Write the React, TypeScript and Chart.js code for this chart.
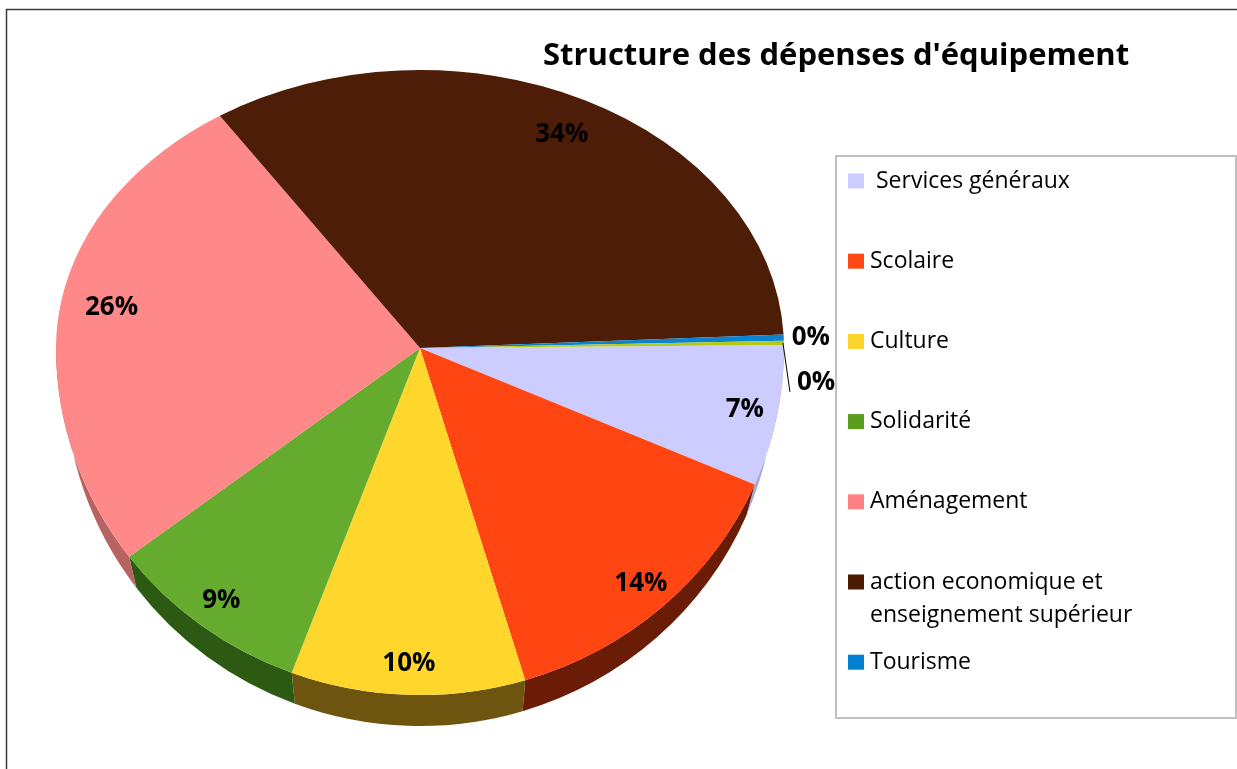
import React, { useEffect, useRef } from 'react';
import { Chart, registerables } from 'chart.js';

Chart.register(...registerables);

// ---------- data ----------
const chartTitle = "Structure des dépenses d'équipement";
const categories = [
  ' Services généraux',
  'Scolaire',
  'Culture',
  'Solidarité',
  'Aménagement',
  'action economique et enseignement supérieur',
  'Tourisme',
  '',
];
const legendLines = [
  [' Services généraux'],
  ['Scolaire'],
  ['Culture'],
  ['Solidarité'],
  ['Aménagement'],
  ['action economique et', 'enseignement supérieur'],
  ['Tourisme'],
];
const values = [6.6, 13.9, 10.4, 9.0, 26.0, 33.5, 0.35, 0.25];

// ---------- styles ----------
const faceColors = ['#CCCCFF', '#FF4512', '#FFD72C', '#64AB2E', '#FF8888', '#4E1D07', '#0A84D0', '#B4CB16'];
const sideColors = ['#A8A8D4', '#6A1C06', '#6D5510', '#2C5A12', '#B86262', '#2E1004', '#05507F', '#6E7A0C'];
const legendColors = ['#CCCCFF', '#FF4815', '#FFD42B', '#5A9E1F', '#FF8080', '#4A1A03', '#0080D0'];

const W = 1237;
const H = 769;
const V = 348; // projected pie centre (vertex) on screen
const KT = 278 / 364; // vertical squash of the back half
const KB = 347 / 364; // vertical squash of the front half
const DEPTH = 31;
const BASE_SHRINK = 9; // bottom rim appears slightly narrower (perspective)
const LABEL_FT = 0.86;
const LABEL_FB = 0.91;
const FONT = '"Open Sans", "Noto Sans", sans-serif';

function geom(chart: any) {
  const ca = chart.chartArea;
  const meta = chart.getDatasetMeta(0);
  const r = meta.data.length ? (meta.data[0] as any).outerRadius : 0;
  return {
    cx: (ca.left + ca.right) / 2,
    cy: (ca.top + ca.bottom) / 2,
    r,
    meta,
  };
}

const pie3d = {
  id: 'pie3d',
  beforeDraw(chart: any) {
    const ctx = chart.ctx as CanvasRenderingContext2D;
    ctx.save();
    ctx.fillStyle = '#ffffff';
    ctx.fillRect(0, 0, W, H);
    ctx.strokeStyle = '#3c3c3c';
    ctx.lineWidth = 1.5;
    ctx.strokeRect(6.5, 9.5, W + 40, H + 40);
    ctx.fillStyle = '#000';
    ctx.font = `bold 31px ${FONT}`;
    ctx.textAlign = 'center';
    ctx.textBaseline = 'alphabetic';
    ctx.fillText(chartTitle, 836, 65);
    ctx.restore();
  },
  beforeDatasetsDraw(chart: any) {
    const ctx = chart.ctx as CanvasRenderingContext2D;
    const { cx, cy, r, meta } = geom(chart);
    // side walls of the front half
    ctx.save();
    meta.data.forEach((arc: any, i: number) => {
      const s = arc.startAngle;
      const e = arc.endAngle;
      for (const base of [-2 * Math.PI, 0, 2 * Math.PI]) {
        const a = Math.max(s, base);
        const b = Math.min(e, base + Math.PI);
        if (b > a) {
          ctx.beginPath();
          ctx.ellipse(cx, V, r, r * KB, 0, a, b, false);
          ctx.ellipse(cx, V + DEPTH, r - BASE_SHRINK, r * KB, 0, b, a, true);
          ctx.closePath();
          ctx.fillStyle = sideColors[i];
          ctx.fill();
        }
      }
    });
    ctx.restore();
    // back half of top face
    ctx.save();
    ctx.beginPath();
    ctx.rect(0, 0, W, V);
    ctx.clip();
    ctx.translate(0, V);
    ctx.scale(1, KT);
    ctx.translate(0, -cy);
    meta.controller.draw();
    ctx.restore();
    // front half of top face
    ctx.save();
    ctx.beginPath();
    ctx.rect(0, V, W, H - V);
    ctx.clip();
    ctx.translate(0, V);
    ctx.scale(1, KB);
    ctx.translate(0, -cy);
    meta.controller.draw();
    ctx.restore();
    return false;
  },
  afterDraw(chart: any) {
    const ctx = chart.ctx as CanvasRenderingContext2D;
    const { cx, r, meta } = geom(chart);
    const total = values.reduce((a, b) => a + b, 0);
    let small = 0;
    ctx.save();
    ctx.fillStyle = '#000';
    ctx.strokeStyle = '#000';
    ctx.lineWidth = 1;
    ctx.font = `bold 26px ${FONT}`;
    ctx.textBaseline = 'middle';
    meta.data.forEach((arc: any, i: number) => {
      const share = values[i] / total;
      const txt = Math.round(share * 100) + '%';
      const mid = (arc.startAngle + arc.endAngle) / 2;
      const sn = Math.sin(mid);
      const k = sn < 0 ? KT : KB;
      if (share < 0.01) {
        const px = cx + r * Math.cos(mid);
        const py = V + r * sn * k;
        ctx.textAlign = 'left';
        if (small === 0) {
          ctx.fillText(txt, px + 8, py);
        } else {
          ctx.beginPath();
          ctx.moveTo(px - 1, py);
          ctx.lineTo(px + 6, py + 49);
          ctx.stroke();
          ctx.fillText(txt, px + 13, py + 40);
        }
        small++;
      } else {
        const f = sn < 0 ? LABEL_FT : LABEL_FB;
        ctx.textAlign = 'center';
        ctx.fillText(txt, cx + r * f * Math.cos(mid), V + r * f * sn * k);
      }
    });
    ctx.restore();

    // legend
    ctx.save();
    ctx.strokeStyle = '#c0c0c0';
    ctx.lineWidth = 2;
    ctx.strokeRect(836, 156, 400, 562);
    ctx.font = `23px ${FONT}`;
    ctx.textBaseline = 'middle';
    ctx.textAlign = 'left';
    legendLines.forEach((lines, i) => {
      const y = 181 + i * 80.2;
      ctx.fillStyle = legendColors[i];
      ctx.fillRect(848, y - 7.5, 16, 15);
      ctx.fillStyle = '#000';
      lines.forEach((ln, j) => ctx.fillText(ln, 870, y + j * 33));
    });
    ctx.restore();
  },
};

export default function App() {
  const ref = useRef<HTMLCanvasElement>(null);
  useEffect(() => {
    if (!ref.current) return;
    const chart = new Chart(ref.current, {
      type: 'pie',
      data: {
        labels: categories,
        datasets: [
          {
            data: values,
            backgroundColor: faceColors,
            borderWidth: 0,
          },
        ],
      },
      options: {
        responsive: false,
        animation: false,
        devicePixelRatio: 1,
        events: [],
        rotation: 89.4,
        layout: { padding: { left: 56, right: W - 784, top: 18, bottom: H - 746 } },
        plugins: {
          legend: { display: false },
          title: { display: false },
          tooltip: { enabled: false },
        },
      },
      plugins: [pie3d],
    });
    return () => chart.destroy();
  }, []);
  return (
    <div style={{ position: 'absolute', left: 0, top: 0, width: W, height: H, background: '#fff' }}>
      <canvas ref={ref} width={W} height={H} style={{ display: 'block' }} />
    </div>
  );
}
